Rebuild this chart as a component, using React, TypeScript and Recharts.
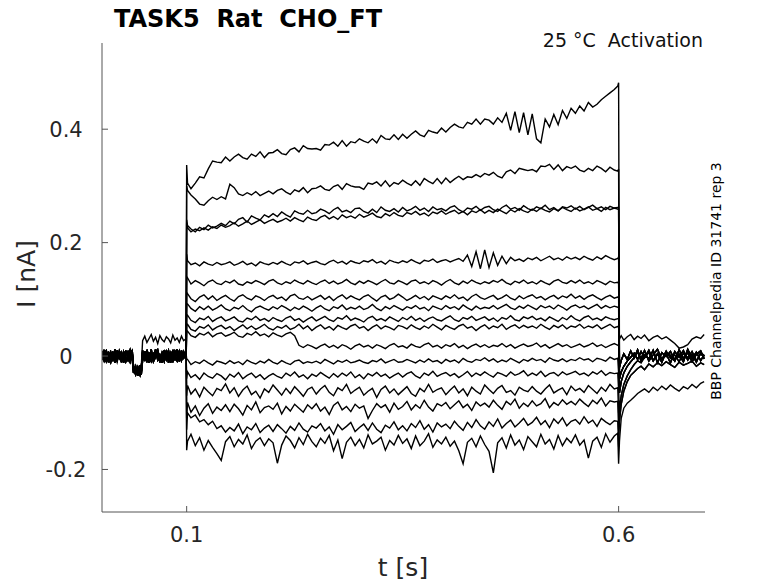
import { LineChart, Line, XAxis, YAxis } from "recharts";

// time grid [s]
const preTimes = [
  0.002, 0.0045, 0.007, 0.0095, 0.012, 0.0145, 0.017, 0.0195, 0.022, 0.0245, 0.027, 0.0295, 0.032, 0.0345, 0.037,
  0.0385, 0.041, 0.0435, 0.046, 0.0475,
  0.049, 0.0515, 0.054, 0.0565, 0.059, 0.0615, 0.064, 0.0665, 0.069, 0.0715, 0.074, 0.0765, 0.079, 0.0815, 0.084,
  0.0865, 0.089, 0.0915, 0.094, 0.0965, 0.0995,
];
const onsetTime = 0.1;
const stepTimes = [
  0.101, 0.105, 0.11, 0.115, 0.12, 0.125, 0.13, 0.135, 0.14, 0.145,
  0.15, 0.155, 0.16, 0.165, 0.17, 0.175, 0.18, 0.185, 0.19, 0.195,
  0.2, 0.205, 0.21, 0.215, 0.22, 0.225, 0.23, 0.235, 0.24, 0.245,
  0.25, 0.255, 0.26, 0.265, 0.27, 0.275, 0.28, 0.285, 0.29, 0.295,
  0.3, 0.305, 0.31, 0.315, 0.32, 0.325, 0.33, 0.335, 0.34, 0.345,
  0.35, 0.355, 0.36, 0.365, 0.37, 0.375, 0.38, 0.385, 0.39, 0.395,
  0.4, 0.405, 0.41, 0.415, 0.42, 0.425, 0.43, 0.435, 0.44, 0.445,
  0.45, 0.455, 0.46, 0.465, 0.47, 0.475, 0.48, 0.485, 0.49, 0.495,
  0.5, 0.505, 0.51, 0.515, 0.52, 0.525, 0.53, 0.535, 0.54, 0.545,
  0.55, 0.555, 0.56, 0.565, 0.57, 0.575, 0.58, 0.585, 0.59, 0.595,
  0.599,
];
const offsetTime = 0.6;
const postTimes = [
  0.601, 0.603, 0.606, 0.61, 0.614, 0.618, 0.622, 0.626, 0.63, 0.635, 0.64, 0.645, 0.65, 0.655, 0.66, 0.665,
  0.67, 0.675, 0.68, 0.685, 0.69, 0.695, 0.699,
];

// currents in pA
const preA = [5, -8, 3, -11, 7, -2, -9, 10, -4, 6, -12, 2, 8, -6, 1, -24, -33, -19, -29, -22, 6, -9, 11, -3, -10, 4, 9, -7, 2, -12, 7, -1, 10, -8, 3, -5, 12, -10, 5, -3, 0];
const preB = [-7, 4, 10, -5, -12, 6, 2, -8, 9, -3, 5, -10, -1, 11, -6, -30, -18, -35, -21, -27, -4, 8, -11, 5, 1, -7, 12, -2, -9, 6, -5, 10, -12, 3, 8, -6, -1, 9, -8, 4, 6];
const preC = [9, -3, -10, 6, 1, -7, 12, -5, 3, -11, 8, -2, -8, 5, 10, -17, -28, -25, -34, -20, 10, -5, 2, -12, 7, -8, 4, 11, -6, 1, -10, 8, -3, 6, -11, 9, 2, -7, 10, -4, 2];
const preD = [-2, 11, -6, 4, -9, 8, -12, 3, 7, -4, -8, 10, -3, -11, 6, -26, -22, -31, -16, -33, -8, 3, 9, -6, 12, -10, -2, 7, -11, 5, 9, -7, 1, -12, 11, -2, -9, 4, -5, 8, -5];
const preHigh = [3, -9, 7, -4, 10, -6, 1, -11, 5, 8, -3, -10, 6, -1, 4, -21, -29, -24, -32, -18, 27, 35, 24, 31, 38, 26, 33, 22, 36, 29, 25, 34, 30, 23, 37, 28, 32, 24, 35, 27, 31];

const onsetPeaks = [337, 300, 240, 235, 180, 140, 112, 92, 70, 56, 42, -5, -40, -70, -110, -130, -166];
const offsetPeaks = [482, 330, 262, 258, 175, 128, 104, 86, 66, 52, 20, -30, -60, -100, -130, -160, -190];

const s01 = [
  305, 295, 305, 316, 314, 330, 344, 342, 341, 351, 344, 351, 356, 350, 347, 356, 352, 360, 350, 358,
  359, 364, 357, 355, 364, 367, 360, 371, 366, 365, 366, 363, 373, 372, 377, 370, 380, 370, 378, 376,
  383, 379, 376, 383, 376, 389, 383, 382, 390, 382, 391, 384, 391, 397, 390, 387, 398, 395, 393, 402,
  395, 403, 409, 404, 402, 412, 409, 418, 409, 418, 416, 409, 420, 412, 428, 398, 431, 394, 429, 390,
  427, 383, 376, 418, 404, 426, 408, 433, 419, 437, 428, 441, 432, 447, 439, 444, 452, 458, 464, 470, 476,
];
const s02 = [
  292, 284, 277, 268, 266, 274, 280, 276, 281, 277, 303, 297, 286, 283, 288, 284, 290, 283, 287, 291,
  286, 292, 295, 289, 285, 293, 290, 297, 288, 295, 296, 300, 294, 292, 299, 302, 294, 304, 300, 298,
  298, 294, 305, 303, 307, 300, 309, 299, 306, 303, 310, 305, 301, 309, 301, 313, 308, 304, 313, 304,
  314, 306, 312, 317, 311, 316, 315, 320, 316, 322, 319, 324, 317, 314, 325, 328, 322, 331, 329, 327,
  329, 325, 335, 334, 338, 329, 337, 327, 334, 331, 335, 328, 325, 331, 327, 335, 331, 325, 333, 328, 326,
];
const s03 = [
  230, 224, 219, 227, 223, 231, 226, 229, 234, 230, 238, 233, 241, 244, 236, 247, 243, 240, 249, 245,
  251, 246, 254, 249, 245, 256, 252, 250, 257, 251, 253, 259, 256, 251, 258, 262, 254, 257, 253, 260,
  261, 255, 252, 259, 253, 263, 257, 255, 260, 254, 262, 256, 259, 264, 257, 261, 255, 263, 258, 260,
  256, 262, 265, 258, 254, 261, 259, 264, 257, 262, 264, 258, 255, 262, 266, 259, 262, 257, 265, 260,
  257, 263, 260, 266, 258, 262, 256, 263, 261, 265, 259, 264, 258, 262, 266, 260, 263, 258, 264, 261, 262,
];
const s04 = [
  226, 219, 224, 221, 226, 222, 228, 225, 231, 227, 230, 235, 229, 233, 238, 232, 236, 240, 234, 238,
  241, 236, 239, 243, 238, 244, 240, 237, 245, 241, 239, 245, 248, 242, 246, 241, 249, 244, 247, 243,
  250, 245, 248, 252, 246, 244, 251, 247, 253, 248, 246, 253, 250, 255, 249, 252, 247, 254, 251, 256,
  250, 254, 257, 251, 255, 249, 256, 253, 258, 252, 257, 253, 259, 255, 251, 258, 254, 260, 256, 253,
  259, 255, 261, 257, 254, 260, 256, 262, 258, 255, 261, 256, 259, 263, 257, 260, 255, 262, 258, 261, 259,
];
const s05 = [
  168, 161, 164, 159, 166, 162, 160, 165, 161, 163, 166, 160, 163, 167, 161, 164, 159, 166, 163, 161,
  165, 162, 167, 163, 160, 166, 164, 168, 162, 165, 167, 163, 161, 166, 169, 164, 167, 162, 168, 165,
  163, 168, 166, 170, 164, 167, 162, 169, 166, 164, 168, 165, 170, 166, 163, 169, 167, 171, 165, 168,
  170, 166, 169, 172, 167, 178, 158, 184, 154, 187, 156, 182, 160, 176, 163, 174, 168, 171, 167, 173,
  170, 174, 168, 172, 176, 170, 173, 169, 175, 171, 174, 170, 176, 172, 169, 175, 171, 177, 173, 170, 172,
];
const s06 = [
  138, 127, 133, 129, 124, 131, 134, 128, 126, 132, 129, 134, 127, 125, 131, 128, 133, 130, 126, 132,
  135, 129, 126, 131, 128, 134, 130, 127, 133, 129, 126, 131, 134, 128, 132, 127, 130, 135, 129, 126,
  132, 128, 133, 130, 126, 131, 135, 129, 127, 133, 130, 126, 132, 134, 128, 131, 127, 133, 130, 125,
  131, 135, 129, 126, 132, 128, 134, 130, 127, 131, 128, 133, 130, 135, 129, 126, 132, 129, 134, 128,
  131, 127, 133, 129, 126, 132, 135, 130, 128, 133, 129, 134, 128, 131, 127, 133, 130, 126, 132, 129, 130,
];
const s07 = [
  110, 101, 96, 104, 108, 100, 106, 98, 103, 107, 101, 97, 105, 108, 102, 99, 106, 103, 98, 104,
  107, 101, 104, 98, 106, 109, 102, 100, 105, 99, 103, 107, 100, 105, 98, 104, 108, 101, 106, 102,
  99, 105, 108, 102, 97, 104, 107, 100, 103, 109, 104, 98, 102, 107, 101, 105, 99, 106, 103, 100,
  106, 102, 108, 101, 104, 98, 105, 109, 103, 100, 104, 107, 100, 103, 108, 102, 99, 106, 101, 105,
  108, 102, 105, 99, 104, 107, 101, 106, 103, 109, 102, 106, 100, 105, 108, 103, 99, 104, 107, 102, 104,
];
const s08 = [
  92, 84, 79, 87, 82, 88, 81, 85, 90, 83, 80, 86, 83, 89, 82, 78, 85, 88, 84, 81,
  87, 83, 89, 85, 80, 86, 82, 88, 84, 79, 85, 89, 83, 80, 87, 84, 90, 82, 86, 83,
  88, 82, 85, 91, 84, 80, 87, 83, 89, 85, 81, 87, 84, 89, 83, 86, 80, 88, 85, 82,
  89, 84, 87, 82, 90, 85, 81, 88, 83, 86, 84, 89, 83, 87, 91, 85, 82, 88, 84, 90,
  86, 82, 89, 85, 88, 83, 90, 86, 81, 87, 90, 85, 88, 83, 87, 91, 84, 89, 85, 88, 86,
];
const s09 = [
  72, 63, 59, 67, 64, 70, 61, 66, 69, 62, 65, 69, 62, 60, 67, 64, 70, 63, 66, 61,
  68, 64, 61, 67, 70, 63, 66, 60, 65, 69, 62, 66, 70, 64, 61, 68, 65, 71, 63, 67,
  64, 60, 67, 70, 63, 66, 62, 69, 65, 61, 68, 64, 70, 63, 67, 61, 66, 69, 64, 62,
  67, 71, 64, 61, 68, 65, 70, 63, 66, 69, 63, 67, 61, 68, 65, 71, 64, 62, 69, 66,
  70, 64, 67, 62, 69, 65, 61, 68, 64, 71, 65, 62, 68, 71, 64, 67, 63, 69, 66, 64, 66,
];
const s10 = [
  56, 47, 44, 52, 49, 55, 46, 51, 54, 48, 52, 45, 50, 55, 48, 53, 47, 51, 56, 49,
  46, 52, 49, 54, 47, 50, 56, 48, 53, 45, 51, 55, 48, 52, 46, 54, 50, 47, 53, 56,
  49, 52, 45, 51, 55, 48, 53, 50, 46, 54, 52, 48, 55, 50, 47, 53, 49, 56, 51, 46,
  54, 50, 47, 53, 56, 49, 52, 45, 51, 55, 48, 53, 50, 56, 47, 52, 55, 49, 54, 50,
  53, 49, 56, 51, 47, 54, 50, 55, 48, 53, 51, 56, 49, 53, 50, 55, 48, 52, 56, 50, 52,
];
const s11 = [
  44, 36, 33, 40, 37, 42, 34, 39, 41, 35, 38, 42, 35, 33, 40, 37, 43, 36, 39, 34,
  41, 37, 34, 39, 42, 36, 19, 15, 20, 17, 13, 18, 21, 15, 19, 14, 20, 17, 12, 18,
  21, 16, 19, 14, 20, 17, 13, 19, 22, 16, 18, 14, 21, 17, 15, 20, 23, 16, 19, 14,
  20, 17, 22, 15, 19, 13, 18, 21, 16, 20, 15, 19, 17, 22, 16, 20, 14, 18, 21, 17,
  19, 23, 16, 20, 14, 18, 22, 17, 20, 15, 18, 21, 16, 19, 23, 17, 20, 15, 19, 22, 19,
];
const s12 = [
  -6, -15, -10, -13, -7, -12, -16, -9, -11, -14, -8, -13, -10, -15, -7, -11, -14, -9, -12, -6,
  -11, -14, -8, -12, -15, -9, -7, -13, -10, -12, -9, -13, -6, -10, -14, -8, -11, -7, -12, -10,
  -7, -11, -13, -8, -10, -5, -12, -9, -6, -11, -10, -6, -9, -12, -7, -11, -5, -10, -8, -13,
  -6, -10, -7, -12, -4, -9, -11, -6, -8, -3, -9, -5, -11, -7, -10, -4, -8, -12, -6, -9,
  -4, -8, -6, -11, -3, -7, -9, -5, -10, -6, -8, -3, -7, -5, -10, -4, -6, -9, -2, -6, -4,
];
const s13 = [
  -28, -38, -33, -41, -30, -36, -39, -31, -35, -42, -32, -37, -29, -40, -34, -30, -38, -33, -41, -35,
  -31, -36, -39, -30, -35, -28, -37, -33, -40, -32, -36, -29, -34, -39, -31, -37, -30, -35, -28, -38,
  -33, -40, -31, -35, -29, -36, -32, -39, -34, -30, -37, -31, -28, -35, -39, -30, -34, -27, -36, -32,
  -29, -35, -31, -38, -33, -27, -36, -30, -34, -28, -33, -37, -29, -32, -36, -28, -34, -31, -26, -35,
  -30, -34, -27, -36, -31, -29, -35, -28, -33, -30, -27, -33, -30, -35, -28, -32, -26, -34, -29, -31, -30,
];
const s14 = [
  -52, -67, -58, -72, -55, -63, -70, -57, -61, -49, -65, -56, -71, -60, -53, -68, -62, -74, -58, -64,
  -51, -60, -69, -57, -66, -54, -62, -71, -59, -55, -67, -58, -52, -64, -70, -56, -61, -50, -66, -60,
  -55, -69, -62, -57, -73, -59, -53, -65, -58, -68, -61, -54, -66, -71, -57, -63, -50, -64, -59, -56,
  -68, -60, -53, -65, -58, -70, -55, -62, -67, -51, -59, -66, -57, -52, -64, -61, -69, -55, -60, -63,
  -54, -62, -67, -58, -51, -65, -60, -56, -68, -53, -61, -57, -64, -52, -59, -66, -55, -62, -50, -58, -56,
];
const s15 = [
  -82, -99, -88, -105, -92, -84, -101, -90, -96, -86, -98, -85, -93, -104, -87, -95, -81, -100, -91, -88,
  -94, -83, -102, -89, -97, -85, -92, -99, -86, -93, -84, -97, -90, -103, -87, -81, -95, -89, -98, -85,
  -92, -88, -110, -96, -84, -91, -86, -99, -83, -94, -89, -80, -95, -86, -92, -78, -90, -97, -84, -88,
  -82, -93, -86, -79, -91, -85, -96, -81, -88, -83, -90, -78, -87, -94, -80, -86, -76, -92, -83, -89,
  -79, -88, -84, -75, -91, -82, -87, -77, -85, -80, -86, -76, -83, -89, -78, -84, -74, -88, -79, -81, -80,
];
const s16 = [
  -100, -109, -104, -116, -112, -121, -115, -128, -123, -134, -126, -132, -120, -137, -125, -130, -119, -135, -127, -122,
  -133, -121, -128, -136, -124, -131, -118, -129, -134, -123, -127, -119, -132, -125, -138, -121, -130, -124, -117, -133,
  -126, -120, -131, -118, -129, -135, -122, -127, -116, -130, -123, -132, -119, -126, -114, -129, -121, -134, -118, -125,
  -120, -128, -115, -124, -131, -117, -126, -112, -123, -129, -116, -124, -111, -127, -119, -113, -125, -118, -110, -122,
  -117, -108, -121, -114, -126, -111, -119, -109, -123, -115, -112, -120, -107, -118, -113, -124, -110, -116, -121, -114, -115,
];
const s17 = [
  -150, -138, -158, -144, -166, -149, -161, -172, -184, -151, -142, -160, -147, -155, -139, -163, -150, -144, -158, -146,
  -153, -189, -157, -141, -149, -162, -144, -156, -138, -151, -160, -145, -154, -140, -167, -148, -181, -152, -143, -158,
  -147, -162, -139, -155, -150, -143, -166, -149, -157, -140, -154, -146, -163, -141, -158, -150, -137, -161, -148, -155,
  -143, -159, -150, -167, -190, -152, -145, -160, -141, -156, -168, -206, -153, -144, -162, -139, -157, -148, -165, -142,
  -151, -160, -138, -155, -147, -164, -140, -158, -145, -153, -139, -157, -148, -180, -150, -143, -161, -137, -152, -141, -136,
];

const postA = [-40, -28, -18, -9, -2, 5, -6, 8, -3, 10, -8, 4, -11, 7, 1, -9, 11, -4, 6, -10, 3, 9, -5];
const postB = [-65, -45, -30, -18, -10, -3, 7, -5, 10, -9, 2, 12, -6, 4, -12, 8, -2, 10, -7, 3, -11, 6, 1];
const postC = [-95, -70, -50, -35, -24, -15, -8, -12, -2, 6, -9, 3, -6, 9, -4, 2, -10, 5, -3, 8, -8, 4, -2];
const postD = [-20, -8, 4, -6, 9, -3, 11, -9, 2, -5, 10, -12, 6, -1, 8, -7, 3, -10, 12, -4, 7, -8, 2];
const postE = [-115, -85, -62, -45, -34, -28, -22, -18, -24, -14, -19, -12, -17, -10, -15, -20, -11, -16, -13, -9, -18, -12, -15];
const postHigh = [30, 36, 28, 34, 38, 29, 35, 31, 37, 27, 33, 36, 30, 34, 28, 22, 14, 16, 20, 30, 34, 31, 38];
const postLow = [-150, -110, -92, -83, -78, -72, -66, -62, -58, -64, -55, -61, -53, -59, -51, -57, -62, -54, -58, -50, -56, -48, -45];

const xTicks = [0.1, 0.6];
const yTicks = [-0.2, 0, 0.2, 0.4];

const traces = [
  { pre: preA, step: s01, post: postD },
  { pre: preB, step: s02, post: postA },
  { pre: preC, step: s03, post: postD },
  { pre: preHigh, step: s04, post: postA },
  { pre: preD, step: s05, post: postB },
  { pre: preA, step: s06, post: postD },
  { pre: preB, step: s07, post: postA },
  { pre: preC, step: s08, post: postB },
  { pre: preD, step: s09, post: postHigh },
  { pre: preA, step: s10, post: postD },
  { pre: preB, step: s11, post: postA },
  { pre: preC, step: s12, post: postB },
  { pre: preD, step: s13, post: postC },
  { pre: preA, step: s14, post: postE },
  { pre: preB, step: s15, post: postC },
  { pre: preC, step: s16, post: postE },
  { pre: preD, step: s17, post: postLow },
];

const times = [...preTimes, onsetTime, ...stepTimes, offsetTime, ...postTimes];
const fullTraces = traces.map((tr, k) => [...tr.pre, onsetPeaks[k], ...tr.step, offsetPeaks[k], ...tr.post]);

const data = times.map((t, i) => {
  const row: Record<string, number> = { t };
  fullTraces.forEach((vals, k) => {
    row[`s${k}`] = vals[i] / 1000;
  });
  return row;
});

const FONT = "DejaVu Sans";
const AXIS = "#555555";
const TEXT = "#262626";

const fmtY = (v: number) => (v === 0 ? "0" : String(v));

function YTick(props: any) {
  const { x, y, payload } = props;
  return (
    <g>
      <line x1={x} x2={x + 6} y1={y} y2={y} stroke={AXIS} />
      <text x={x - 36} y={y} dy="0.36em" textAnchor="middle" fontFamily={FONT} fontSize={21} fill={TEXT}>
        {fmtY(payload.value)}
      </text>
    </g>
  );
}

function XTick(props: any) {
  const { x, y, payload } = props;
  return (
    <g>
      <line x1={x} x2={x} y1={y} y2={y - 6} stroke={AXIS} />
      <text x={x} y={y + 30} textAnchor="middle" fontFamily={FONT} fontSize={21} fill={TEXT}>
        {String(payload.value)}
      </text>
    </g>
  );
}

export default function App() {
  return (
    <div style={{ position: "absolute", left: 0, top: 0, width: 778, height: 583, background: "#fff" }}>
      <LineChart width={778} height={583} data={data} margin={{ top: 43, right: 73, bottom: 0, left: 0 }}>
        <XAxis
          dataKey="t"
          type="number"
          domain={[0.002, 0.7]}
          ticks={xTicks}
          interval={0}
          allowDataOverflow
          height={71}
          tickSize={0}
          tickMargin={0}
          tickLine={false}
          axisLine={{ stroke: AXIS }}
          tick={(p: any) => <XTick {...p} />}
        />
        <YAxis
          type="number"
          domain={[-0.275, 0.552]}
          ticks={yTicks}
          interval={0}
          allowDataOverflow
          width={102}
          tickSize={0}
          tickMargin={0}
          tickLine={false}
          axisLine={{ stroke: AXIS }}
          tick={(p: any) => <YTick {...p} />}
        />
        {fullTraces.map((_, k) => (
          <Line
            key={k}
            type="linear"
            dataKey={`s${k}`}
            stroke="#000"
            strokeWidth={1.4}
            dot={false}
            activeDot={false}
            isAnimationActive={false}
          />
        ))}
      </LineChart>
      <svg width={778} height={583} style={{ position: "absolute", left: 0, top: 0, pointerEvents: "none" }}>
        <text x={114} y={27} fontFamily={FONT} fontWeight="bold" fontSize={24} fill="#000" style={{ whiteSpace: "pre" }}>
          {"TASK5  Rat  CHO_FT"}
        </text>
        <text x={703} y={47} textAnchor="end" fontFamily={FONT} fontSize={19} fill="#111" style={{ whiteSpace: "pre" }}>
          {"25 °C  Activation"}
        </text>
        <text
          x={721}
          y={281}
          textAnchor="middle"
          transform="rotate(-90 721 281)"
          fontFamily={FONT}
          fontSize={14}
          fill="#000"
        >
          BBP Channelpedia ID 31741 rep 3
        </text>
        <text x={403} y={576} textAnchor="middle" fontFamily={FONT} fontSize={25} fill={TEXT}>
          t [s]
        </text>
        <text
          x={35}
          y={274}
          textAnchor="middle"
          transform="rotate(-90 35 274)"
          fontFamily={FONT}
          fontSize={25}
          fill={TEXT}
        >
          I [nA]
        </text>
      </svg>
    </div>
  );
}
